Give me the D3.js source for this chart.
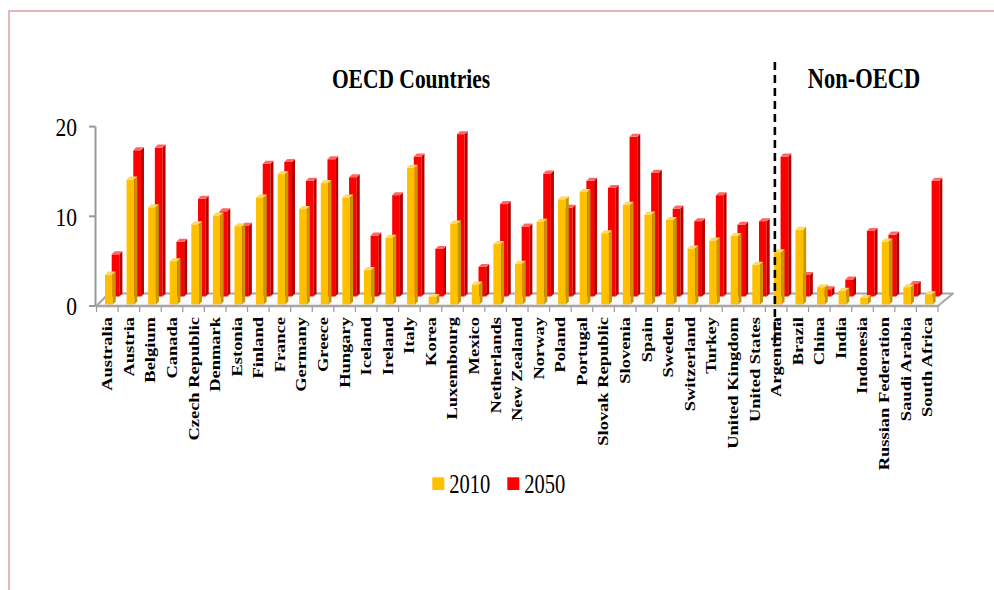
<!DOCTYPE html>
<html>
<head>
<meta charset="utf-8">
<script src="https://cdn.jsdelivr.net/npm/d3@7"></script>
<style>
  body { margin: 0; background: #fff; }
  text { font-family: "Liberation Serif", "Times New Roman", serif; fill: #000; }
</style>
</head>
<body>
<svg id="chart" width="994" height="590"></svg>
<script>
// Countries, OECD members first, then the non-OECD group
const countries = [
  "Australia", "Austria", "Belgium", "Canada", "Czech Republic", "Denmark", "Estonia",
  "Finland", "France", "Germany", "Greece", "Hungary", "Iceland", "Ireland", "Italy",
  "Korea", "Luxembourg", "Mexico", "Netherlands", "New Zealand", "Norway", "Poland",
  "Portugal", "Slovak Republic", "Slovenia", "Spain", "Sweden", "Switzerland", "Turkey",
  "United Kingdom", "United States",
  "Argentina", "Brazil", "China", "India", "Indonesia", "Russian Federation",
  "Saudi Arabia", "South Africa"
];
const firstNonOecd = "Argentina";

const values2010 = [
  3.5, 14.1, 11.0, 5.0, 9.1, 10.1, 8.9,
  12.1, 14.7, 10.8, 13.7, 12.1, 4.0, 7.6, 15.4,
  1.0, 9.2, 2.4, 6.9, 4.7, 9.4, 11.9,
  12.7, 8.1, 11.3, 10.2, 9.6, 6.4, 7.3,
  7.8, 4.6,
  6.0, 8.5, 2.1, 1.7, 0.9, 7.2,
  2.1, 1.3
];
const values2050 = [
  4.7, 16.3, 16.6, 6.1, 10.9, 9.5, 7.9,
  14.8, 15.0, 12.9, 15.3, 13.3, 6.8, 11.3, 15.6,
  5.3, 18.1, 3.3, 10.3, 7.8, 13.7, 9.9,
  12.9, 12.1, 17.8, 13.8, 9.8, 8.4, 11.3,
  8.0, 8.4,
  15.6, 2.4, 0.8, 1.9, 7.3, 6.9,
  1.4, 12.9
];
const yTicks = [0, 10, 20];
const seriesNames = ["2010", "2050"];
const groupTitles = ["OECD Countries", "Non-OECD"];

const palette = {
  "2010": { front: "#FFC000", side: "#C79600", top: "#FFD966" },
  "2050": { front: "#FF0000", side: "#B80000", top: "#FF6666" }
};

const svg = d3.select("#chart");

// outer frame
svg.append("rect")
  .attr("x", 9).attr("y", 11).attr("width", 1000).attr("height", 600)
  .attr("fill", "none").attr("stroke", "#E8B6B6").attr("stroke-width", 2);

const x = d3.scaleBand().domain(countries).range([96.5, 938]).padding(0);
const y = d3.scaleLinear().domain([0, 20]).range([306, 126.6]);
const step = x.step();

// 3-D geometry: back row offset and bar depth
const backShift = { dx: step * 0.31, dy: 9.5 };
const floorShift = { dx: 15, dy: 12.5 };
const barW = step * 0.357;
const barD = 3;
const barOffset = step * 0.394;

// floor
const x0 = x.range()[0], x1 = x.range()[1], yb = y(0);
svg.append("path")
  .attr("d", `M${x0},${yb}L${x1},${yb}L${x1 + floorShift.dx},${yb - floorShift.dy}` +
             `L${x0 + 12},${yb - floorShift.dy}Z`)
  .attr("fill", "#FAFAFA").attr("stroke", "#A6A6A6").attr("stroke-width", 2)
  .attr("stroke-linejoin", "round");

function bar3d(g, bx, yBase, yTop, c) {
  const w = barW, d = barD;
  g.append("rect").attr("x", bx).attr("y", yTop)
    .attr("width", w).attr("height", Math.max(0, yBase - yTop)).attr("fill", c.front);
  g.append("path")
    .attr("d", `M${bx + w},${yBase}L${bx + w + d},${yBase - d}L${bx + w + d},${yTop - d}L${bx + w},${yTop}Z`)
    .attr("fill", c.side);
  g.append("path")
    .attr("d", `M${bx},${yTop}L${bx + d},${yTop - d}L${bx + w + d},${yTop - d}L${bx + w},${yTop}Z`)
    .attr("fill", c.top);
}

// back row (2050), then front row (2010)
const gBack = svg.append("g");
countries.forEach((c, i) => {
  const bx = x(c) + barOffset + backShift.dx;
  bar3d(gBack, bx, y(0) - backShift.dy, y(values2050[i]) - backShift.dy, palette["2050"]);
});
const gFront = svg.append("g");
countries.forEach((c, i) => {
  const bx = x(c) + barOffset;
  bar3d(gFront, bx, y(0) - 1.5, y(values2010[i]), palette["2010"]);
});

// category axis ticks
const gx = svg.append("g");
d3.range(countries.length + 1).forEach(i => {
  const tx = x0 + i * step;
  gx.append("line").attr("x1", tx).attr("x2", tx).attr("y1", yb).attr("y2", yb + 6)
    .attr("stroke", "#999").attr("stroke-width", 1.2);
});
gx.append("line").attr("x1", x0).attr("x2", x1).attr("y1", yb).attr("y2", yb)
  .attr("stroke", "#A6A6A6").attr("stroke-width", 2.5);

// category labels
countries.forEach(c => {
  svg.append("text")
    .attr("transform", `translate(${x(c) + x.bandwidth() / 2},317) scale(1,1.32) rotate(-90)`)
    .attr("text-anchor", "end").attr("dy", "0.35em")
    .attr("font-size", 14).attr("font-weight", "bold")
    .text(c);
});

// value axis
const gy = svg.append("g");
gy.append("line").attr("x1", 95.5).attr("x2", 95.5).attr("y1", y(20)).attr("y2", y(0))
  .attr("stroke", "#999").attr("stroke-width", 2);
yTicks.forEach(t => {
  gy.append("line").attr("x1", 89).attr("x2", 95.5).attr("y1", y(t)).attr("y2", y(t))
    .attr("stroke", "#999").attr("stroke-width", 2);
  gy.append("text")
    .attr("transform", `translate(77,${y(t)}) scale(1,1.2)`)
    .attr("text-anchor", "end").attr("dy", "0.36em")
    .attr("font-size", 21.5)
    .text(t);
});

// divider between the two country groups
const divX = x(firstNonOecd) + x.bandwidth() * 0.44;
svg.append("line")
  .attr("x1", divX).attr("x2", divX).attr("y1", 62).attr("y2", 343)
  .attr("stroke", "#000").attr("stroke-width", 2.6).attr("stroke-dasharray", "8,5");

// group titles
svg.append("text")
  .attr("transform", "translate(411,88) scale(1,1.3)")
  .attr("text-anchor", "middle").attr("font-size", 21.5).attr("font-weight", "bold")
  .text(groupTitles[0]);
svg.append("text")
  .attr("transform", "translate(864,88) scale(1,1.3)")
  .attr("text-anchor", "middle").attr("font-size", 22.5).attr("font-weight", "bold")
  .text(groupTitles[1]);

// legend
const legendX = [432.3, 507.3];
seriesNames.forEach((s, i) => {
  svg.append("rect").attr("x", legendX[i]).attr("y", 477.3)
    .attr("width", 12).attr("height", 12.7).attr("fill", palette[s].front);
  svg.append("text")
    .attr("transform", `translate(${legendX[i] + 17},492.7) scale(1,1.3)`)
    .attr("font-size", 20.5)
    .text(s);
});
</script>
</body>
</html>
